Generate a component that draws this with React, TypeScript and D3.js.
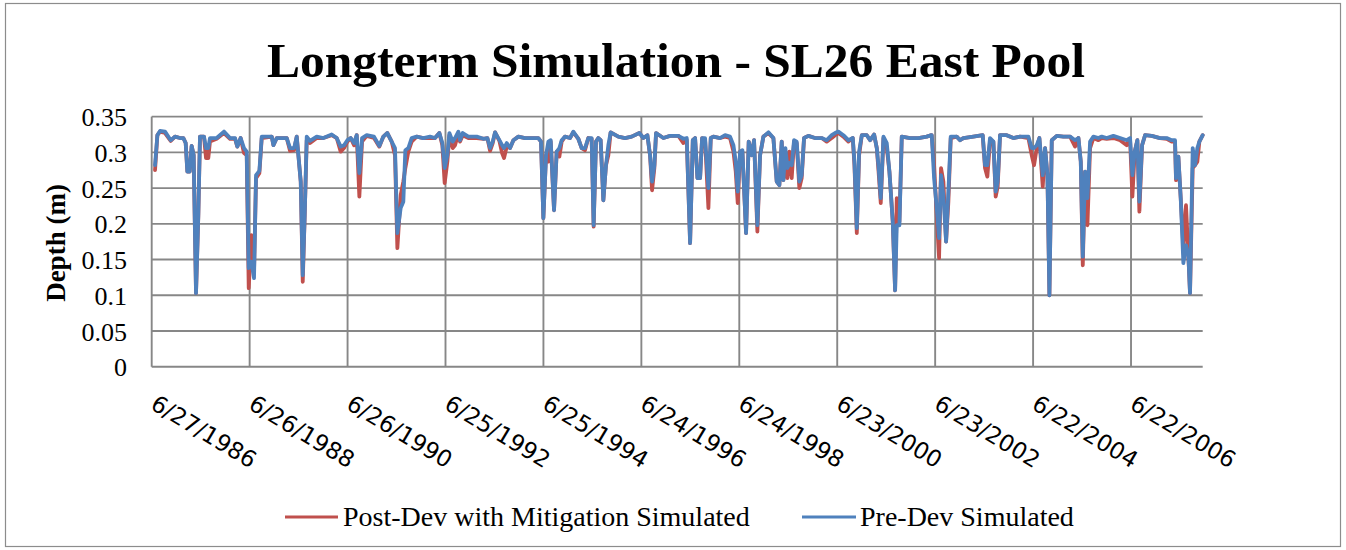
import React from 'react';
import * as d3 from 'd3';

// sample dates as decimal years
const years = [
  1986.553, 1986.601, 1986.655, 1986.757, 1986.873, 1986.961, 1987.063, 1987.131, 1987.179, 1987.213,
  1987.261, 1987.301, 1987.342, 1987.390, 1987.437, 1987.471, 1987.553, 1987.594, 1987.641, 1987.675,
  1987.812, 1987.961, 1988.084, 1988.186, 1988.233, 1988.301, 1988.369, 1988.424, 1988.465, 1988.519,
  1988.573, 1988.614, 1988.682, 1988.730, 1988.934, 1988.968, 1989.036, 1989.240, 1989.308, 1989.390,
  1989.444, 1989.526, 1989.567, 1989.607, 1989.648, 1989.716, 1989.852, 1989.988, 1990.158, 1990.261,
  1990.342, 1990.410, 1990.478, 1990.546, 1990.614, 1990.669, 1990.723, 1990.778, 1990.873, 1991.022,
  1991.131, 1991.213, 1991.295, 1991.383, 1991.451, 1991.499, 1991.567, 1991.621, 1991.662, 1991.723,
  1991.791,
  1991.893, 1992.029, 1992.165, 1992.267, 1992.356, 1992.417, 1992.464, 1992.519, 1992.560, 1992.628,
  1992.675, 1992.743, 1992.777, 1992.832, 1992.947, 1993.118, 1993.254, 1993.335, 1993.390, 1993.444,
  1993.492, 1993.580, 1993.635, 1993.675, 1993.730, 1993.798, 1993.866, 1993.968, 1994.104, 1994.240,
  1994.376, 1994.430, 1994.478, 1994.533, 1994.580, 1994.628, 1994.696, 1994.750, 1994.805, 1994.852,
  1994.920, 1995.022, 1995.090, 1995.192, 1995.260, 1995.328, 1995.396, 1995.464, 1995.505, 1995.553,
  1995.601, 1995.648, 1995.703, 1995.757, 1995.805, 1995.852, 1996.009, 1996.145, 1996.281, 1996.437,
  1996.519, 1996.601, 1996.655, 1996.696, 1996.743, 1996.777, 1996.927, 1997.063,
  1997.234, 1997.336, 1997.404, 1997.472, 1997.527, 1997.574, 1997.622, 1997.676, 1997.717, 1997.778,
  1997.846, 1997.894, 1997.948, 1998.084, 1998.186, 1998.288, 1998.357, 1998.404, 1998.445, 1998.493,
  1998.540, 1998.615, 1998.669, 1998.731, 1998.778, 1998.846, 1998.901, 1998.969, 1999.071, 1999.173,
  1999.241, 1999.295, 1999.343, 1999.377, 1999.418, 1999.459, 1999.499, 1999.547, 1999.595, 1999.649,
  1999.703, 1999.751, 1999.799, 1999.887, 2000.023, 2000.159, 2000.261, 2000.363, 2000.431, 2000.499,
  2000.601, 2000.703, 2000.792, 2000.826, 2000.874, 2000.921, 2000.976, 2001.078, 2001.146, 2001.227,
  2001.282, 2001.316, 2001.363, 2001.418, 2001.486, 2001.540, 2001.608, 2001.656, 2001.690, 2001.744,
  2001.792, 2001.962, 2002.132, 2002.302, 2002.384,
  2002.404, 2002.452, 2002.506, 2002.554, 2002.594, 2002.642, 2002.697, 2002.744, 2002.792, 2002.914,
  2002.982, 2003.050, 2003.254, 2003.445, 2003.492, 2003.540, 2003.594, 2003.663, 2003.710, 2003.751,
  2003.799, 2003.935, 2004.071, 2004.207, 2004.377, 2004.445, 2004.492, 2004.547, 2004.601, 2004.669,
  2004.717, 2004.765, 2004.805, 2004.853, 2004.955, 2005.091, 2005.227, 2005.329, 2005.397, 2005.445,
  2005.486, 2005.533, 2005.581, 2005.635, 2005.703, 2005.805, 2005.873, 2005.975, 2006.111, 2006.248,
  2006.384, 2006.452, 2006.499, 2006.547, 2006.601, 2006.642, 2006.697, 2006.758, 2006.894, 2007.064,
  2007.200, 2007.302, 2007.370, 2007.390, 2007.438, 2007.486, 2007.540, 2007.594, 2007.642, 2007.676,
  2007.731, 2007.778, 2007.826, 2007.867, 2007.935,
];

// Pre-Dev Simulated depth (m)
const preDev = [
  0.282, 0.324, 0.330, 0.329, 0.317, 0.322, 0.320, 0.320, 0.313, 0.273,
  0.273, 0.309, 0.296, 0.103, 0.212, 0.322, 0.322, 0.306, 0.306, 0.320,
  0.320, 0.329, 0.320, 0.320, 0.308, 0.320, 0.306, 0.301, 0.138, 0.147,
  0.124, 0.268, 0.274, 0.322, 0.322, 0.310, 0.320, 0.320, 0.306, 0.306,
  0.322, 0.259, 0.128, 0.212, 0.322, 0.316, 0.322, 0.320, 0.325, 0.320,
  0.308, 0.310, 0.317, 0.320, 0.313, 0.324, 0.271, 0.320, 0.324, 0.322,
  0.309, 0.322, 0.327, 0.315, 0.306, 0.187, 0.222, 0.231, 0.303, 0.306,
  0.320,
  0.322, 0.320, 0.322, 0.320, 0.327, 0.313, 0.278, 0.296, 0.327, 0.315,
  0.320, 0.329, 0.317, 0.327, 0.322, 0.322, 0.319, 0.320, 0.306, 0.315,
  0.328, 0.317, 0.310, 0.306, 0.313, 0.306, 0.317, 0.322, 0.320, 0.320,
  0.320, 0.315, 0.208, 0.296, 0.315, 0.317, 0.219, 0.301, 0.306, 0.317,
  0.322, 0.320, 0.329, 0.319, 0.306, 0.306, 0.320, 0.320, 0.198, 0.315,
  0.320, 0.317, 0.233, 0.282, 0.310, 0.328, 0.322, 0.320, 0.322, 0.327,
  0.320, 0.324, 0.296, 0.259, 0.282, 0.327, 0.320, 0.323,
  0.323, 0.319, 0.320, 0.173, 0.317, 0.320, 0.264, 0.264, 0.320, 0.320,
  0.250, 0.320, 0.322, 0.320, 0.324, 0.322, 0.310, 0.287, 0.245, 0.301,
  0.303, 0.187, 0.315, 0.296, 0.317, 0.198, 0.296, 0.322, 0.328, 0.320,
  0.259, 0.254, 0.315, 0.261, 0.306, 0.278, 0.285, 0.282, 0.317, 0.315,
  0.259, 0.268, 0.320, 0.323, 0.320, 0.320, 0.317, 0.324, 0.327, 0.329,
  0.324, 0.317, 0.320, 0.287, 0.194, 0.301, 0.324, 0.324, 0.317, 0.325,
  0.306, 0.282, 0.236, 0.322, 0.313, 0.273, 0.203, 0.107, 0.198, 0.198,
  0.322, 0.320, 0.320, 0.322, 0.324,
  0.324, 0.264, 0.222, 0.180, 0.268, 0.240, 0.175, 0.245, 0.322, 0.322,
  0.317, 0.320, 0.322, 0.324, 0.282, 0.282, 0.320, 0.315, 0.245, 0.259,
  0.324, 0.324, 0.320, 0.322, 0.322, 0.306, 0.306, 0.310, 0.320, 0.268,
  0.306, 0.268, 0.100, 0.317, 0.323, 0.322, 0.322, 0.317, 0.320, 0.287,
  0.154, 0.273, 0.236, 0.315, 0.322, 0.320, 0.322, 0.320, 0.323, 0.320,
  0.317, 0.320, 0.268, 0.301, 0.317, 0.231, 0.310, 0.324, 0.323, 0.320,
  0.320, 0.317, 0.317, 0.264, 0.294, 0.236, 0.145, 0.170, 0.156, 0.103,
  0.306, 0.282, 0.306, 0.315, 0.324,
];

// Post-Dev with Mitigation Simulated depth (m)
const postDev = [
  0.275, 0.324, 0.329, 0.327, 0.316, 0.322, 0.320, 0.320, 0.313, 0.273,
  0.273, 0.309, 0.296, 0.103, 0.212, 0.322, 0.322, 0.292, 0.292, 0.315,
  0.319, 0.327, 0.319, 0.319, 0.308, 0.320, 0.299, 0.296, 0.110, 0.184,
  0.133, 0.264, 0.271, 0.320, 0.322, 0.310, 0.320, 0.320, 0.302, 0.303,
  0.322, 0.259, 0.119, 0.212, 0.317, 0.313, 0.320, 0.320, 0.324, 0.320,
  0.301, 0.306, 0.315, 0.320, 0.310, 0.324, 0.238, 0.315, 0.323, 0.320,
  0.308, 0.322, 0.327, 0.315, 0.296, 0.166, 0.240, 0.259, 0.278, 0.301,
  0.315,
  0.322, 0.320, 0.320, 0.320, 0.327, 0.310, 0.257, 0.287, 0.324, 0.306,
  0.310, 0.327, 0.315, 0.324, 0.320, 0.320, 0.319, 0.320, 0.302, 0.313,
  0.328, 0.316, 0.299, 0.292, 0.308, 0.306, 0.317, 0.322, 0.320, 0.320,
  0.320, 0.315, 0.208, 0.296, 0.287, 0.315, 0.219, 0.301, 0.294, 0.315,
  0.322, 0.320, 0.328, 0.319, 0.306, 0.303, 0.320, 0.319, 0.196, 0.315,
  0.320, 0.317, 0.233, 0.282, 0.296, 0.328, 0.322, 0.320, 0.322, 0.327,
  0.320, 0.324, 0.296, 0.247, 0.278, 0.327, 0.320, 0.323,
  0.323, 0.313, 0.317, 0.173, 0.317, 0.320, 0.264, 0.264, 0.320, 0.317,
  0.222, 0.320, 0.322, 0.320, 0.322, 0.320, 0.301, 0.273, 0.229, 0.301,
  0.301, 0.187, 0.315, 0.296, 0.317, 0.189, 0.296, 0.322, 0.327, 0.320,
  0.259, 0.254, 0.315, 0.261, 0.301, 0.264, 0.301, 0.264, 0.315, 0.313,
  0.250, 0.264, 0.320, 0.323, 0.320, 0.320, 0.315, 0.320, 0.324, 0.327,
  0.322, 0.315, 0.320, 0.282, 0.187, 0.296, 0.324, 0.324, 0.317, 0.325,
  0.306, 0.275, 0.229, 0.320, 0.306, 0.273, 0.203, 0.107, 0.236, 0.203,
  0.322, 0.320, 0.320, 0.322, 0.324,
  0.324, 0.282, 0.212, 0.152, 0.278, 0.259, 0.175, 0.231, 0.320, 0.322,
  0.317, 0.320, 0.322, 0.324, 0.278, 0.266, 0.315, 0.315, 0.238, 0.252,
  0.324, 0.324, 0.320, 0.322, 0.320, 0.296, 0.282, 0.306, 0.320, 0.252,
  0.306, 0.268, 0.100, 0.317, 0.323, 0.322, 0.322, 0.308, 0.320, 0.287,
  0.142, 0.273, 0.198, 0.306, 0.320, 0.317, 0.320, 0.319, 0.320, 0.317,
  0.310, 0.317, 0.238, 0.301, 0.317, 0.217, 0.310, 0.324, 0.323, 0.320,
  0.319, 0.315, 0.315, 0.261, 0.294, 0.236, 0.166, 0.226, 0.156, 0.103,
  0.278, 0.282, 0.287, 0.315, 0.324,
];

const tickLabels = [
  '6/27/1986', '6/26/1988', '6/26/1990', '6/25/1992', '6/25/1994', '6/24/1996',
  '6/24/1998', '6/23/2000', '6/23/2002', '6/22/2004', '6/22/2006',
];
const yTicks = [0, 0.05, 0.1, 0.15, 0.2, 0.25, 0.3, 0.35];

const seriesNames = ['Post-Dev with Mitigation Simulated', 'Pre-Dev Simulated'];
const seriesColors = ['#C0504D', '#4F81BD'];

const W = 1346;
const H = 550;
const plot = { left: 151.7, right: 1202.7, top: 116.6, bottom: 366.8 };
const serif = '"Liberation Serif", "Times New Roman", serif';

const parseDate = d3.timeParse('%m/%d/%Y');
const yearToDate = (v: number) => {
  const y = Math.floor(v);
  const a = new Date(y, 0, 1).getTime();
  const b = new Date(y + 1, 0, 1).getTime();
  return new Date(a + (v - y) * (b - a));
};

export default function App() {
  const tickDates = tickLabels.map(s => parseDate(s) as Date);
  const dates = years.map(yearToDate);

  const x = d3.scaleTime()
    .domain([tickDates[0], dates[dates.length - 1]])
    .range([plot.left, plot.right]);
  const y = d3.scaleLinear().domain([0, 0.35]).range([plot.bottom, plot.top]);

  const line = d3.line<number>()
    .x((_, i) => x(dates[i]))
    .y(d => y(d));

  const series = [postDev, preDev];

  return (
    <svg width={W} height={H} style={{ position: 'absolute', left: 0, top: 0, background: '#fff' }}>
      <rect x={5.5} y={3.5} width={1335} height={543} fill="#fff" stroke="#8c8c8c" strokeWidth={1.2} />

      <text x={676} y={77} textAnchor="middle" fontFamily={serif} fontWeight="bold" fontSize={49.5} fill="#000">
        Longterm Simulation - SL26 East Pool
      </text>

      {/* grid */}
      {yTicks.map(t => (
        <line key={'h' + t} x1={plot.left} x2={plot.right} y1={y(t)} y2={y(t)} stroke="#878787" strokeWidth={1.9} />
      ))}
      {tickDates.map((d, i) => (
        <line key={'v' + i} x1={x(d)} x2={x(d)} y1={plot.top} y2={plot.bottom} stroke="#878787" strokeWidth={1.9} />
      ))}

      {/* series */}
      {series.map((s, i) => (
        <path key={i} d={line(s) || ''} fill="none" stroke={seriesColors[i]} strokeWidth={3.8}
          strokeLinejoin="round" strokeLinecap="round" />
      ))}

      {/* y tick labels */}
      {yTicks.map(t => (
        <text key={'yl' + t} x={127} y={y(t) + 9.5} textAnchor="end" fontFamily={serif} fontSize={26} fill="#000">
          {String(t)}
        </text>
      ))}

      {/* x tick labels */}
      {tickDates.map((d, i) => (
        <text key={'xl' + i} transform={`translate(${x(d) - 2.5},408) rotate(31)`}
          fontFamily='"DejaVu Sans", Verdana, sans-serif' fontSize={23} fill="#000">
          {tickLabels[i]}
        </text>
      ))}

      <text transform="translate(65,243) rotate(-90)" textAnchor="middle" fontFamily={serif}
        fontWeight="bold" fontSize={27} fill="#000">
        Depth (m)
      </text>

      {/* legend */}
      <line x1={285} x2={338} y1={517} y2={517} stroke={seriesColors[0]} strokeWidth={3} />
      <text x={343} y={526} fontFamily={serif} fontSize={28} fill="#000">{seriesNames[0]}</text>
      <line x1={802} x2={856} y1={517} y2={517} stroke={seriesColors[1]} strokeWidth={3} />
      <text x={860} y={526} fontFamily={serif} fontSize={28} fill="#000">{seriesNames[1]}</text>
    </svg>
  );
}
